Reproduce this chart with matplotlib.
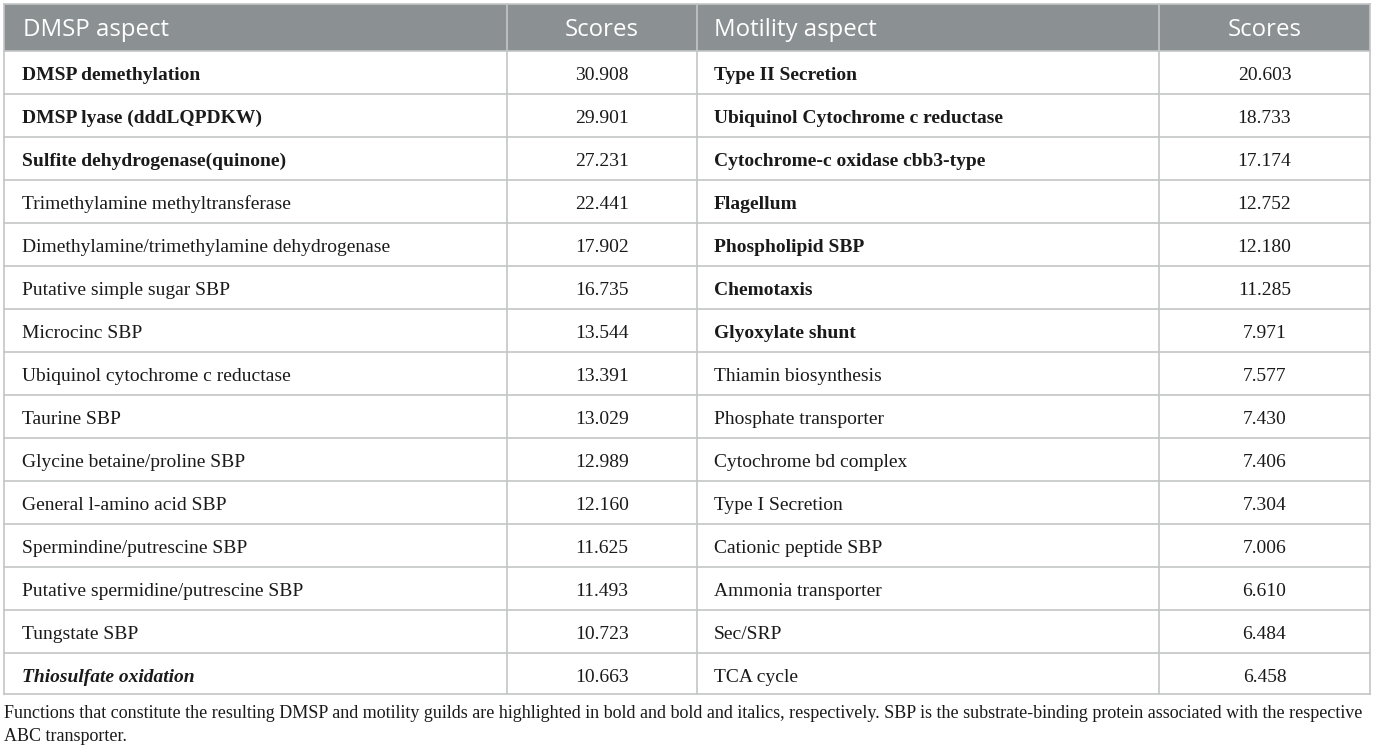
import matplotlib
matplotlib.use("Agg")
import matplotlib.pyplot as plt
from matplotlib.patches import Rectangle

# table content
dmsp_names = ["DMSP demethylation", "DMSP lyase (dddLQPDKW)", "Sulfite dehydrogenase(quinone)",
              "Trimethylamine methyltransferase", "Dimethylamine/trimethylamine dehydrogenase",
              "Putative simple sugar SBP", "Microcinc SBP", "Ubiquinol cytochrome c reductase",
              "Taurine SBP", "Glycine betaine/proline SBP", "General l-amino acid SBP",
              "Spermindine/putrescine SBP", "Putative spermidine/putrescine SBP", "Tungstate SBP",
              "Thiosulfate oxidation"]
dmsp_scores = ["30.908", "29.901", "27.231", "22.441", "17.902", "16.735", "13.544", "13.391",
               "13.029", "12.989", "12.160", "11.625", "11.493", "10.723", "10.663"]
motility_names = ["Type II Secretion", "Ubiquinol Cytochrome c reductase", "Cytochrome-c oxidase cbb3-type",
                  "Flagellum", "Phospholipid SBP", "Chemotaxis", "Glyoxylate shunt", "Thiamin biosynthesis",
                  "Phosphate transporter", "Cytochrome bd complex", "Type I Secretion",
                  "Cationic peptide SBP", "Ammonia transporter", "Sec/SRP", "TCA cycle"]
motility_scores = ["20.603", "18.733", "17.174", "12.752", "12.180", "11.285", "7.971", "7.577",
                   "7.430", "7.406", "7.304", "7.006", "6.610", "6.484", "6.458"]
headers = ["DMSP aspect", "Scores", "Motility aspect", "Scores"]

# guild members (DMSP guild -> bold, motility guild -> bold, or bold italic when listed on DMSP side)
dmsp_guild = ["DMSP demethylation", "DMSP lyase (dddLQPDKW)", "Sulfite dehydrogenase(quinone)"]
motility_guild = ["Type II Secretion", "Ubiquinol Cytochrome c reductase", "Cytochrome-c oxidase cbb3-type",
                  "Flagellum", "Phospholipid SBP", "Chemotaxis", "Glyoxylate shunt", "Thiosulfate oxidation"]

footnote = ["Functions that constitute the resulting DMSP and motility guilds are highlighted in bold and bold and italics, "
            "respectively. SBP is the substrate-binding protein associated with the respective",
            "ABC transporter."]

W, H = 1375, 752
fig = plt.figure(figsize=(W / 100, H / 100), dpi=100)
ax = fig.add_axes([0, 0, 1, 1])
ax.set_xlim(0, W)
ax.set_ylim(H, 0)
ax.axis("off")

col_x = [4, 507, 697, 1159, 1370]
top, head_bot, row_h = 4, 51, 43.0
n = len(dmsp_names)
bottom = 693.5
line_c = "#c4c6c6"
head_c = "#8b9093"
txt_c = "#1a1a1a"
serif = "Liberation Serif"

ax.add_patch(Rectangle((col_x[0], top), col_x[-1] - col_x[0], head_bot - top, color=head_c, lw=0))
# grid
for i in range(n):
    y = head_bot + i * row_h
    ax.plot([col_x[0], col_x[-1]], [y, y], color=line_c, lw=1.2)
ax.plot([col_x[0], col_x[-1]], [bottom, bottom], color=line_c, lw=1.2)
ax.plot([col_x[0], col_x[-1]], [top, top], color=line_c, lw=1.2)
for x in col_x:
    ax.plot([x, x], [top, bottom], color=line_c, lw=1.2)

# headers
hy = 36
hk = dict(color="white", fontsize=17.3, family="Open Sans", va="baseline")
ax.text(col_x[0] + 19, hy, headers[0], **hk)
ax.text((col_x[1] + col_x[2]) / 2, hy, headers[1], ha="center", **hk)
ax.text(col_x[2] + 17, hy, headers[2], **hk)
ax.text((col_x[3] + col_x[4]) / 2, hy, headers[3], ha="center", **hk)

bk = dict(fontsize=14, family=serif, va="baseline", color=txt_c)
for i in range(n):
    y = head_bot + i * row_h + 29
    name = dmsp_names[i]
    if name in dmsp_guild:
        w, s = "bold", "normal"
    elif name in motility_guild:
        w, s = "bold", "italic"
    else:
        w, s = "normal", "normal"
    ax.text(col_x[0] + 18, y, name, weight=w, style=s, **bk)
    ax.text((col_x[1] + col_x[2]) / 2, y, dmsp_scores[i], ha="center", **bk)
    w2 = "bold" if motility_names[i] in motility_guild else "normal"
    ax.text(col_x[2] + 17, y, motility_names[i], weight=w2, **bk)
    ax.text((col_x[3] + col_x[4]) / 2, y, motility_scores[i], ha="center", **bk)

fk = dict(fontsize=13, family=serif, va="baseline", color=txt_c)
ax.text(col_x[0], 718, footnote[0], **fk)
ax.text(col_x[0], 741, footnote[1], **fk)

fig.savefig("out.png", dpi=100)
